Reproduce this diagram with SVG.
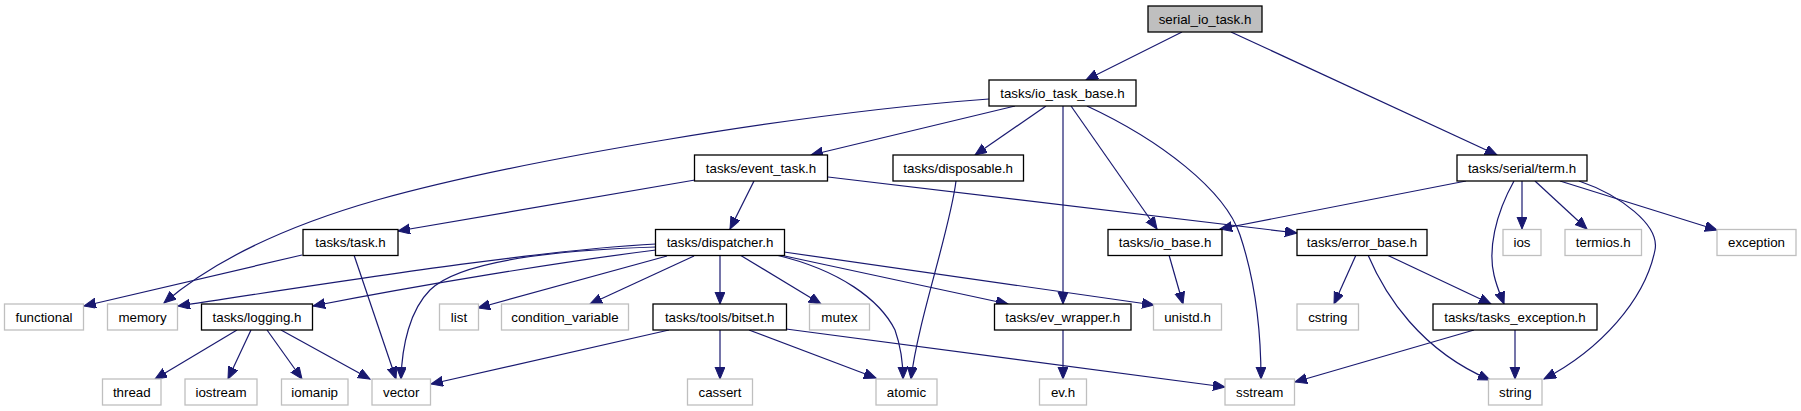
<svg xmlns="http://www.w3.org/2000/svg" width="1801" height="411" viewBox="0 0 1801 411">
<style>
.n rect{fill:#ffffff;stroke:#000000;stroke-width:1.3}
.x rect{fill:#ffffff;stroke:#bfbfbf;stroke-width:1.3}
.r rect{fill:#bfbfbf;stroke:#000000;stroke-width:1.3}
text{font-family:"Liberation Sans",Arial,Helvetica,sans-serif;font-size:13.33px;text-anchor:middle;fill:#000000}
#edges path{fill:none;stroke:#191970;stroke-width:1.2;marker-end:url(#ah)}
</style>
<defs>
<marker id="ah" markerUnits="userSpaceOnUse" markerWidth="14" markerHeight="12" refX="12" refY="5" orient="auto">
<path d="M0,0 L12,5 L0,10 z" fill="#191970" stroke="#191970" stroke-width="1"/>
</marker>
</defs>
<rect width="1801" height="411" fill="#ffffff"/>
<g id="edges">
<path d="M1182,32 L1086,80"/>
<path d="M1231,32 L1497,155"/>
<path d="M989,99 C800,113 520,160 377,200 C300,222 220,255 164,303"/>
<path d="M1015,106 L811,155"/>
<path d="M1046,106 L975,155"/>
<path d="M1063,106 L1063,304"/>
<path d="M1071,106 L1157,229"/>
<path d="M1087,106 C1160,140 1225,190 1240,235 C1255,280 1261,330 1261,379"/>
<path d="M695,180 L398,231"/>
<path d="M754,181 L730,229"/>
<path d="M828,177 L1297,233"/>
<path d="M956,181 C950,230 918,320 911,379"/>
<path d="M1466,181 L1220,229"/>
<path d="M1514,181 C1495,215 1488,250 1494,275 C1497,288 1501,296 1504,304"/>
<path d="M1522,181 L1522,229"/>
<path d="M1535,181 L1587,229"/>
<path d="M1560,181 L1717,230"/>
<path d="M1579,181 C1620,195 1660,225 1655,250 C1645,300 1600,350 1544,379"/>
<path d="M302,255 L84,306"/>
<path d="M354,255 L396,379"/>
<path d="M656,244 C540,250 350,280 178,306"/>
<path d="M656,250 C560,262 420,285 313,306"/>
<path d="M656,247 C560,250 460,260 430,290 C410,310 402,345 401,379"/>
<path d="M667,256 L478,308"/>
<path d="M694,256 L590,304"/>
<path d="M720,255 L720,304"/>
<path d="M740,255 L821,304"/>
<path d="M776,255 C840,270 880,300 895,330 C902,350 903,365 903,379"/>
<path d="M780,255 L1008,304"/>
<path d="M784,252 L1154,305"/>
<path d="M1169,255 L1183,304"/>
<path d="M1356,255 L1334,304"/>
<path d="M1387,255 L1491,304"/>
<path d="M1368,255 C1385,295 1420,350 1490,380"/>
<path d="M237,330 L155,379"/>
<path d="M251,330 L228,379"/>
<path d="M267,330 L302,379"/>
<path d="M281,330 L370,379"/>
<path d="M669,330 L431,384"/>
<path d="M720,330 L720,379"/>
<path d="M749,330 L876,378"/>
<path d="M786,329 L1225,387"/>
<path d="M1063,330 L1063,379"/>
<path d="M1474,330 L1295,382"/>
<path d="M1515,330 L1515,379"/>
</g>
<g id="n_serial_io_task" class="r"><rect x="1148" y="6" width="114" height="26"/><text x="1205" y="23.5">serial_io_task.h</text></g>
<g id="n_io_task_base" class="n"><rect x="989" y="80" width="147" height="26"/><text x="1062.5" y="97.5">tasks/io_task_base.h</text></g>
<g id="n_event_task" class="n"><rect x="694.5" y="155" width="133" height="26"/><text x="761" y="172.5">tasks/event_task.h</text></g>
<g id="n_disposable" class="n"><rect x="893" y="155" width="130.5" height="26"/><text x="958.2" y="172.5">tasks/disposable.h</text></g>
<g id="n_term" class="n"><rect x="1457" y="155" width="130" height="26"/><text x="1522" y="172.5">tasks/serial/term.h</text></g>
<g id="n_task" class="n"><rect x="303" y="229.5" width="95" height="26"/><text x="350.5" y="247">tasks/task.h</text></g>
<g id="n_dispatcher" class="n"><rect x="655.5" y="229.5" width="129" height="26"/><text x="720" y="247">tasks/dispatcher.h</text></g>
<g id="n_io_base" class="n"><rect x="1108" y="229.5" width="114" height="26"/><text x="1165" y="247">tasks/io_base.h</text></g>
<g id="n_error_base" class="n"><rect x="1297" y="229.5" width="130" height="26"/><text x="1362" y="247">tasks/error_base.h</text></g>
<g id="n_ios" class="x"><rect x="1503" y="229.5" width="38" height="26"/><text x="1522" y="247">ios</text></g>
<g id="n_termios" class="x"><rect x="1565" y="229.5" width="76.5" height="26"/><text x="1603.2" y="247">termios.h</text></g>
<g id="n_exception" class="x"><rect x="1717" y="229.5" width="79" height="26"/><text x="1756.5" y="247">exception</text></g>
<g id="n_functional" class="x"><rect x="4.5" y="304" width="79" height="26"/><text x="44" y="321.5">functional</text></g>
<g id="n_memory" class="x"><rect x="107.5" y="304" width="70" height="26"/><text x="142.5" y="321.5">memory</text></g>
<g id="n_logging" class="n"><rect x="201.5" y="304" width="111" height="26"/><text x="257" y="321.5">tasks/logging.h</text></g>
<g id="n_list" class="x"><rect x="439.5" y="304" width="39" height="26"/><text x="459" y="321.5">list</text></g>
<g id="n_condition_variable" class="x"><rect x="501.5" y="304" width="127" height="26"/><text x="565" y="321.5">condition_variable</text></g>
<g id="n_bitset" class="n"><rect x="653" y="304" width="133.5" height="26"/><text x="719.7" y="321.5">tasks/tools/bitset.h</text></g>
<g id="n_mutex" class="x"><rect x="809.5" y="304" width="60" height="26"/><text x="839.5" y="321.5">mutex</text></g>
<g id="n_ev_wrapper" class="n"><rect x="994.5" y="304" width="136.5" height="26"/><text x="1062.7" y="321.5">tasks/ev_wrapper.h</text></g>
<g id="n_unistd" class="x"><rect x="1153.5" y="304" width="68" height="26"/><text x="1187.5" y="321.5">unistd.h</text></g>
<g id="n_cstring" class="x"><rect x="1297" y="304" width="61.5" height="26"/><text x="1327.8" y="321.5">cstring</text></g>
<g id="n_tasks_exception" class="n"><rect x="1433" y="304" width="164" height="26"/><text x="1515" y="321.5">tasks/tasks_exception.h</text></g>
<g id="n_thread" class="x"><rect x="102.5" y="379" width="58.5" height="26"/><text x="131.8" y="396.5">thread</text></g>
<g id="n_iostream" class="x"><rect x="185" y="379" width="72" height="26"/><text x="221" y="396.5">iostream</text></g>
<g id="n_iomanip" class="x"><rect x="281.5" y="379" width="66.5" height="26"/><text x="314.7" y="396.5">iomanip</text></g>
<g id="n_vector" class="x"><rect x="372" y="379" width="58.5" height="26"/><text x="401.2" y="396.5">vector</text></g>
<g id="n_cassert" class="x"><rect x="687.5" y="379" width="65" height="26"/><text x="720" y="396.5">cassert</text></g>
<g id="n_atomic" class="x"><rect x="876" y="379" width="61" height="26"/><text x="906.5" y="396.5">atomic</text></g>
<g id="n_evh" class="x"><rect x="1039.5" y="379" width="47" height="26"/><text x="1063" y="396.5">ev.h</text></g>
<g id="n_sstream" class="x"><rect x="1225" y="379" width="69.5" height="26"/><text x="1259.7" y="396.5">sstream</text></g>
<g id="n_string" class="x"><rect x="1488.5" y="379" width="53.5" height="26"/><text x="1515.3" y="396.5">string</text></g>
</svg>
